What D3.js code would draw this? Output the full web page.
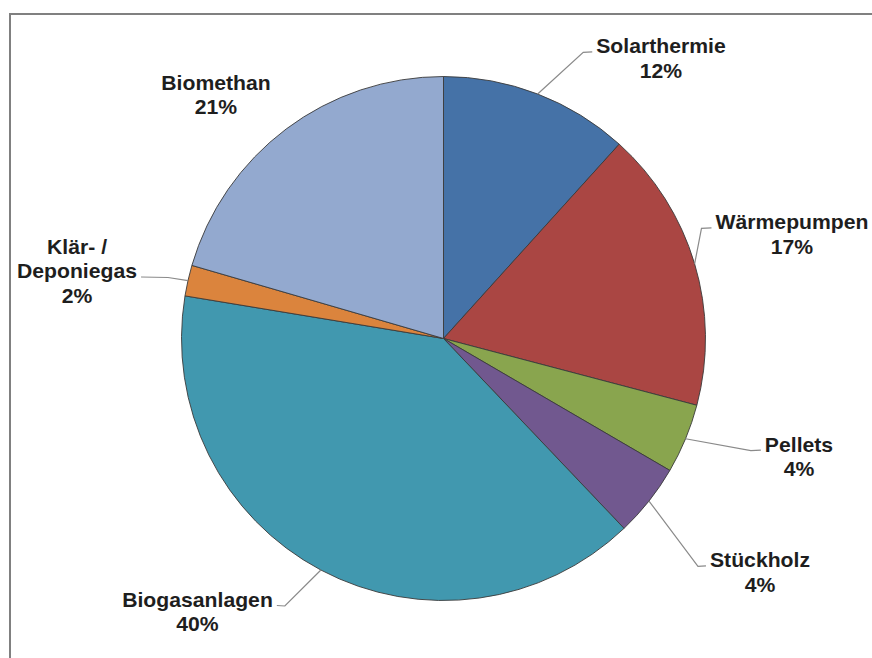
<!DOCTYPE html>
<html>
<head>
<meta charset="utf-8">
<script src="https://cdn.jsdelivr.net/npm/d3@7/dist/d3.min.js"></script>
<style>
html,body{margin:0;padding:0;background:#fff;}
svg{display:block;}
</style>
</head>
<body>
<svg id="chart" width="872" height="658"></svg>
<script>
// ---- data ----
const categories = ["Solarthermie", "Wärmepumpen", "Pellets", "Stückholz", "Biogasanlagen", "Klär- / Deponiegas", "Biomethan"];
const values = [11.7, 17.4, 4.3, 4.5, 39.7, 1.9, 20.5];
const percentLabels = ["12%", "17%", "4%", "4%", "40%", "2%", "21%"];
const nameLines = [["Solarthermie"], ["Wärmepumpen"], ["Pellets"], ["Stückholz"], ["Biogasanlagen"], ["Klär- /", "Deponiegas"], ["Biomethan"]];
const colors = ["#4572A7", "#AA4643", "#89A54E", "#71588F", "#4198AF", "#DB843D", "#93A9CF"];

// ---- layout ----
const cx = 443.5, cy = 338.5, radius = 262;
const fontSize = 20, stretchX = 1.06, lineH = 24.5;
// label anchor: centre x, baseline of first line; leader: which line, side
const labelLayout = [
  {x: 661, y: 53.3, leaderLine: 0, side: "left", elbow: 9},
  {x: 792, y: 229.3, leaderLine: 0, side: "left", elbow: 10},
  {x: 799, y: 451.7, leaderLine: 0, side: "left", elbow: 10},
  {x: 760, y: 567.3, leaderLine: 0, side: "left", elbow: 8},
  {x: 197.5, y: 607, leaderLine: 0, side: "right", elbow: 8},
  {x: 77, y: 254, leaderLine: 1, side: "right", elbow: 27},
  {x: 216, y: 90, leaderLine: null}
];

const svg = d3.select("#chart");

// frame
svg.append("path")
  .attr("d", "M10,700 L10,14 L900,14")
  .attr("fill", "none")
  .attr("stroke", "#808080")
  .attr("stroke-width", 2);

const data = categories.map((c, i) => ({name: c, value: values[i], i}));
const pie = d3.pie().sort(null).value(d => d.value).startAngle(0).endAngle(2 * Math.PI);
const arcs = pie(data);
const arc = d3.arc().innerRadius(0).outerRadius(radius);

const g = svg.append("g").attr("transform", `translate(${cx},${cy})`);
g.selectAll("path.slice").data(arcs).join("path")
  .attr("class", "slice")
  .attr("d", arc)
  .attr("fill", d => colors[d.data.i])
  .attr("stroke", "#3a3a3a")
  .attr("stroke-width", 0.9)
  .attr("stroke-linejoin", "round");

// labels
const labelsG = svg.append("g");
arcs.forEach((a, i) => {
  const L = labelLayout[i];
  const lines = nameLines[i].concat([percentLabels[i]]);
  const tg = labelsG.append("g").attr("transform", `translate(${L.x},${L.y}) scale(${stretchX},1)`);
  const widths = [];
  lines.forEach((t, k) => {
    const txt = tg.append("text")
      .attr("x", 0).attr("y", k * lineH)
      .attr("text-anchor", "middle")
      .attr("font-family", "'Liberation Sans', Arial, sans-serif")
      .attr("font-weight", "bold")
      .attr("font-size", fontSize)
      .attr("fill", "#1e1e1e")
      .text(t);
    widths.push(txt.node().getComputedTextLength() * stretchX);
  });
  if (L.leaderLine !== null) {
    const mid = (a.startAngle + a.endAngle) / 2;
    const sx = cx + radius * Math.sin(mid), sy = cy - radius * Math.cos(mid);
    const w = widths[L.leaderLine];
    const ey = L.y + L.leaderLine * lineH - 1.5;
    const ex = L.side === "left" ? L.x - w / 2 - 4 : L.x + w / 2 + 4;
    const elx = L.side === "left" ? ex - L.elbow : ex + L.elbow;
    labelsG.append("polyline")
      .attr("points", `${sx},${sy} ${elx},${ey + (L.side === "left" ? 0.5 : 0.5)} ${ex},${ey}`)
      .attr("fill", "none")
      .attr("stroke", "#8a8a8a")
      .attr("stroke-width", 1.2);
  }
});
</script>
</body>
</html>
